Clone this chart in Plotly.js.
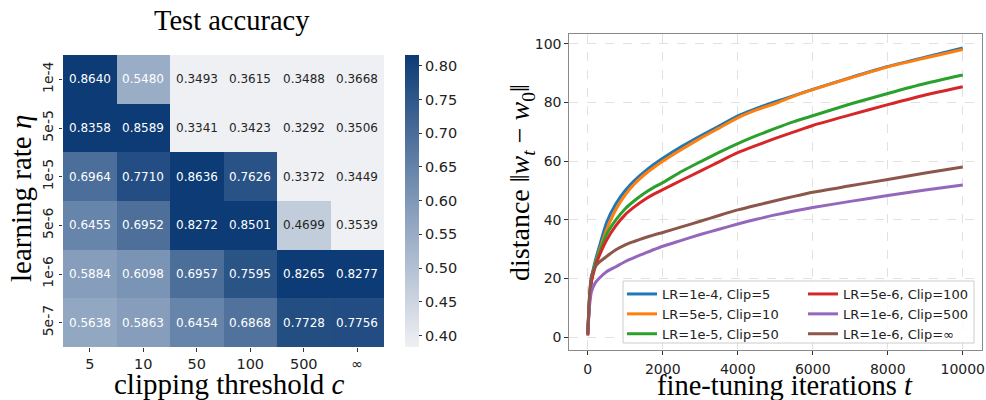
<!DOCTYPE html>
<html><head><meta charset="utf-8">
<script src="https://cdn.plot.ly/plotly-3.0.1.min.js"></script>
<style>html,body{margin:0;padding:0;background:#fff}#chart{width:986px;height:400px}</style>
</head><body><div id="chart"></div>
<script>
// ---------- heatmap data ----------
const clipLabels = ['5', '10', '50', '100', '500', '∞'];
const lrLabels = ['1e-4', '5e-5', '1e-5', '5e-6', '1e-6', '5e-7'];
const accuracy = [
  [0.8640, 0.5480, 0.3493, 0.3615, 0.3488, 0.3668],
  [0.8358, 0.8589, 0.3341, 0.3423, 0.3292, 0.3506],
  [0.6964, 0.7710, 0.8636, 0.7626, 0.3372, 0.3449],
  [0.6455, 0.6952, 0.8272, 0.8501, 0.4699, 0.3539],
  [0.5884, 0.6098, 0.6957, 0.7595, 0.8265, 0.8277],
  [0.5638, 0.5863, 0.6454, 0.6868, 0.7728, 0.7756]
];
const colorbarTicks = [0.40, 0.45, 0.50, 0.55, 0.60, 0.65, 0.70, 0.75, 0.80];
const colorMin = 0.383, colorMax = 0.816;

// ---------- distance curves ----------
const iterations = [0, 50, 100, 200, 300, 500, 750, 1000, 1250, 1500, 1750, 2000, 2500, 3000, 3500, 4000, 4500, 5000, 5500, 6000, 7000, 8000, 9000, 10000];
const iterTicks = [0, 2000, 4000, 6000, 8000, 10000];
const distTicks = [0, 20, 40, 60, 80, 100];
const distLR1e4Clip5   = [1, 14, 20, 26, 30.5, 39, 45.5, 50, 53.5, 56.3, 58.8, 61, 65, 68.6, 72, 75.5, 78, 80.3, 82.4, 84.5, 88.5, 92.3, 95.5, 98.6];
const distLR5e5Clip10  = [1, 13.5, 19.5, 25, 29, 36.5, 43.5, 48.5, 52.3, 55.3, 57.8, 60, 64, 67.8, 71.3, 74.8, 77.5, 79.7, 82.2, 84.4, 88.4, 92.2, 95.2, 98.1];
const distLR1e5Clip50  = [1, 13.5, 19.5, 25, 28.5, 35, 40, 43.8, 46.6, 49, 51, 52.7, 56.5, 59.8, 63, 66, 68.7, 71.2, 73.5, 75.5, 79.5, 83.1, 86.5, 89.4];
const distLR5e6Clip100 = [0.5, 13, 19, 24, 27.5, 33, 38, 41.8, 44.5, 46.8, 48.7, 50.3, 53.5, 56.6, 59.8, 62.9, 65.4, 67.8, 70, 72.2, 75.8, 79.3, 82.6, 85.4];
const distLR1e6Clip500 = [1, 11, 15.5, 18.5, 20, 22.3, 24, 25.8, 27.2, 28.5, 29.8, 31, 33, 35, 36.8, 38.6, 40.2, 41.7, 43, 44.2, 46.3, 48.3, 50.2, 51.9];
const distLR1e6ClipInf = [1, 15, 21, 24, 25.5, 27.5, 29.8, 31.5, 32.7, 33.8, 34.8, 35.7, 37.6, 39.5, 41.5, 43.4, 45, 46.5, 48, 49.4, 51.6, 53.8, 56, 58];
const seriesNames = ['LR=1e-4, Clip=5', 'LR=5e-5, Clip=10', 'LR=1e-5, Clip=50', 'LR=5e-6, Clip=100', 'LR=1e-6, Clip=500', 'LR=1e-6, Clip=∞'];
const seriesValues = [distLR1e4Clip5, distLR5e5Clip10, distLR1e5Clip50, distLR5e6Clip100, distLR1e6Clip500, distLR1e6ClipInf];
const seriesColors = ['#1f77b4', '#ff7f0e', '#2ca02c', '#d62728', '#9467bd', '#8c564b'];
const seriesLegend = ['legend', 'legend', 'legend', 'legend2', 'legend2', 'legend2'];

const W = 986, H = 400;
const px = x => x / W, py = y => 1 - y / H;
const FONT = 'DejaVu Sans';
const SERIF = 'Liberation Serif, Times New Roman, serif';

const colIdx = clipLabels.map((_, i) => i);
const rowIdx = lrLabels.map((_, i) => i);

const traces = [{
  type: 'heatmap',
  z: accuracy, x: colIdx, y: rowIdx,
  xaxis: 'x', yaxis: 'y',
  zmin: colorMin, zmax: colorMax,
  colorscale: [[0, 'rgb(239,240,243)'], [0.5, 'rgb(128,152,184)'], [1, 'rgb(12,59,117)']],
  showscale: true,
  hoverinfo: 'skip',
  colorbar: {
    x: px(405), xanchor: 'left', y: py(347), yanchor: 'bottom',
    len: 292 / H, lenmode: 'fraction', thickness: 14, thicknessmode: 'pixels',
    outlinewidth: 0, xpad: 0, ypad: 0,
    tickvals: colorbarTicks, ticktext: colorbarTicks.map(v => v.toFixed(2)),
    ticks: 'outside', ticklen: 3.5, tickcolor: '#333', tickwidth: 1,
    tickfont: {family: FONT, size: 14.5, color: '#222'}
  }
}];

seriesValues.forEach((vals, i) => {
  traces.push({
    type: 'scatter', mode: 'lines',
    x: iterations, y: vals, name: seriesNames[i],
    xaxis: 'x2', yaxis: 'y2',
    line: {color: seriesColors[i], width: 3, shape: 'spline', smoothing: 0.6},
    legend: seriesLegend[i],
    hoverinfo: 'skip'
  });
});

// cell annotations
const annotations = [];
accuracy.forEach((row, r) => row.forEach((v, c) => {
  annotations.push({
    x: colIdx[c], y: rowIdx[r], xref: 'x', yref: 'y',
    text: v.toFixed(4), showarrow: false,
    font: {family: FONT, size: 12, color: v > 0.51 ? '#ffffff' : '#262626'}
  });
}));
// titles
annotations.push(
  {text: 'Test accuracy', xref: 'paper', yref: 'paper', x: px(232), y: py(20), xanchor: 'center', yanchor: 'middle', showarrow: false, font: {family: SERIF, size: 28.5, color: '#000'}},
  {text: 'learning rate <i>η</i>', xref: 'paper', yref: 'paper', x: px(21), y: py(199), xanchor: 'center', yanchor: 'middle', textangle: -90, showarrow: false, font: {family: SERIF, size: 29, color: '#000'}},
  {text: 'clipping threshold <i>c</i>', xref: 'paper', yref: 'paper', x: px(229), y: py(384), xanchor: 'center', yanchor: 'middle', showarrow: false, font: {family: SERIF, size: 29, color: '#000'}},
  {text: 'distance ‖<i>w</i><sub><i>t</i></sub> − <i>w</i><sub>0</sub>‖', xref: 'paper', yref: 'paper', x: px(521), y: py(183), xanchor: 'center', yanchor: 'middle', textangle: -90, showarrow: false, font: {family: SERIF, size: 28, color: '#000'}},
  {text: 'fine-tuning iterations <i>t</i>', xref: 'paper', yref: 'paper', x: px(785), y: py(385), xanchor: 'center', yanchor: 'middle', showarrow: false, font: {family: SERIF, size: 28.5, color: '#000'}}
);

const layout = {
  width: W, height: H,
  margin: {l: 0, r: 0, t: 0, b: 0},
  paper_bgcolor: '#fff', plot_bgcolor: '#fff',
  font: {family: FONT, color: '#222'},
  xaxis: {
    domain: [px(63), px(384)], anchor: 'y',
    range: [-0.5, clipLabels.length - 0.5], tickvals: colIdx, ticktext: clipLabels,
    showgrid: false, zeroline: false, showline: false,
    ticks: 'outside', ticklen: 3.5, tickcolor: '#333', tickwidth: 1,
    tickfont: {family: FONT, size: 14.5, color: '#222'}
  },
  yaxis: {
    domain: [py(347), py(55)], anchor: 'x',
    range: [lrLabels.length - 0.5, -0.5], tickvals: rowIdx, ticktext: lrLabels,
    showgrid: false, zeroline: false, showline: false,
    ticks: 'outside', ticklen: 3.5, tickcolor: '#333', tickwidth: 1, tickangle: -90,
    tickfont: {family: FONT, size: 14, color: '#222'}
  },
  xaxis2: {
    domain: [px(569), px(981.5)], anchor: 'y2',
    range: [-500, 10500], tickvals: iterTicks, ticktext: iterTicks.map(String),
    showgrid: true, gridcolor: '#d9d9d9', griddash: 'dash', gridwidth: 0.8,
    zeroline: false, showline: true, mirror: true, linecolor: '#8a8a8a', linewidth: 1.2,
    ticks: 'outside', ticklen: 3.5, tickcolor: '#333', tickwidth: 1, ticklabelstandoff: 2,
    tickfont: {family: FONT, size: 14, color: '#222'}
  },
  yaxis2: {
    domain: [py(350), py(34)], anchor: 'x2',
    range: [-4.4, 103.4], tickvals: distTicks, ticktext: distTicks.map(String),
    showgrid: true, gridcolor: '#d9d9d9', griddash: 'dash', gridwidth: 0.8,
    zeroline: false, showline: true, mirror: true, linecolor: '#8a8a8a', linewidth: 1.2,
    ticks: 'outside', ticklen: 3.5, tickcolor: '#333', tickwidth: 1,
    tickfont: {family: FONT, size: 14, color: '#222'}
  },
  showlegend: true,
  legend: {
    x: px(622), y: py(279), xanchor: 'left', yanchor: 'top',
    bgcolor: 'rgba(0,0,0,0)', borderwidth: 0, orientation: 'v',
    font: {family: FONT, size: 13, color: '#222'}, itemwidth: 30, tracegroupgap: 0
  },
  legend2: {
    x: px(803), y: py(279), xanchor: 'left', yanchor: 'top',
    bgcolor: 'rgba(0,0,0,0)', borderwidth: 0, orientation: 'v',
    font: {family: FONT, size: 13, color: '#222'}, itemwidth: 30, tracegroupgap: 0
  },
  shapes: [{
    type: 'rect', xref: 'paper', yref: 'paper', layer: 'above',
    x0: px(623), x1: px(974), y0: py(343), y1: py(281),
    fillcolor: 'rgba(255,255,255,0.8)', line: {color: '#cccccc', width: 1}
  }],
  annotations: annotations
};

Plotly.newPlot('chart', traces, layout, {staticPlot: true, displayModeBar: false});
</script>
</body></html>
